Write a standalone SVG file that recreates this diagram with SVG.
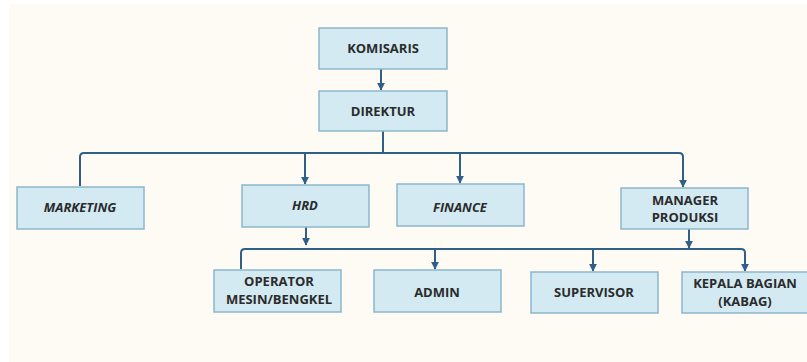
<svg xmlns="http://www.w3.org/2000/svg" width="807" height="362" viewBox="0 0 807 362">
<defs>
<style>
.box{fill:#D3EAF3;stroke:#8DB6CA;stroke-width:1.5}
.t{font-family:"Open Sans","Liberation Sans",sans-serif;font-weight:700;font-size:13px;fill:#2B2B2B;text-anchor:middle}
.i{font-style:italic}
.c{fill:none;stroke:#2E6088;stroke-width:2}
</style>
<marker id="ah" viewBox="0 0 10 10" refX="9" refY="5" markerWidth="4" markerHeight="4" orient="auto">
<path d="M0,0 L10,5 L0,10 z" fill="#2E6088"/>
</marker>
</defs>
<rect width="807" height="362" fill="#FFFFFF"/>
<rect x="9" y="4" width="798" height="358" fill="#FEFBF4"/>
<g id="connectors">
<path class="c" d="M381,69 V90" marker-end="url(#ah)"/>
<path class="c" d="M383,131 V153"/>
<path class="c" d="M80,186 V157 Q80,153 84,153 H679 Q683,153 683,157 V187" marker-end="url(#ah)"/>
<path class="c" d="M305,153 V184" marker-end="url(#ah)"/>
<path class="c" d="M460,153 V183" marker-end="url(#ah)"/>
<path class="c" d="M306,227 V245" marker-end="url(#ah)"/>
<path class="c" d="M689,229 V248" marker-end="url(#ah)"/>
<path class="c" d="M241,269 V253 Q241,249 245,249 H741 Q745,249 745,253 V271" marker-end="url(#ah)"/>
<path class="c" d="M435,249 V269" marker-end="url(#ah)"/>
<path class="c" d="M593,249 V271" marker-end="url(#ah)"/>
</g>
<g id="komisaris"><rect class="box" x="319" y="28" width="128" height="41"/><text class="t" x="383" y="53">KOMISARIS</text></g>
<g id="direktur"><rect class="box" x="319" y="91" width="128" height="40"/><text class="t" x="383" y="116">DIREKTUR</text></g>
<g id="marketing"><rect class="box" x="17" y="187" width="127" height="42"/><text class="t i" x="80" y="212">MARKETING</text></g>
<g id="hrd"><rect class="box" x="242" y="185" width="127" height="42"/><text class="t i" x="305" y="210">HRD</text></g>
<g id="finance"><rect class="box" x="397" y="184" width="127" height="42"/><text class="t i" x="460" y="212">FINANCE</text></g>
<g id="manager-produksi"><rect class="box" x="621" y="188" width="127" height="41"/><text class="t" x="685" y="205">MANAGER</text><text class="t" x="685" y="222">PRODUKSI</text></g>
<g id="operator"><rect class="box" x="214" y="270" width="127" height="42"/><text class="t" x="279" y="286">OPERATOR</text><text class="t" x="279" y="304">MESIN/BENGKEL</text></g>
<g id="admin"><rect class="box" x="374" y="270" width="127" height="42"/><text class="t" x="437" y="297">ADMIN</text></g>
<g id="supervisor"><rect class="box" x="531" y="272" width="127" height="41"/><text class="t" x="594" y="297">SUPERVISOR</text></g>
<g id="kepala-bagian"><rect class="box" x="682" y="272" width="126" height="41"/><text class="t" x="745" y="288">KEPALA BAGIAN</text><text class="t" x="745" y="306">(KABAG)</text></g>
</svg>
